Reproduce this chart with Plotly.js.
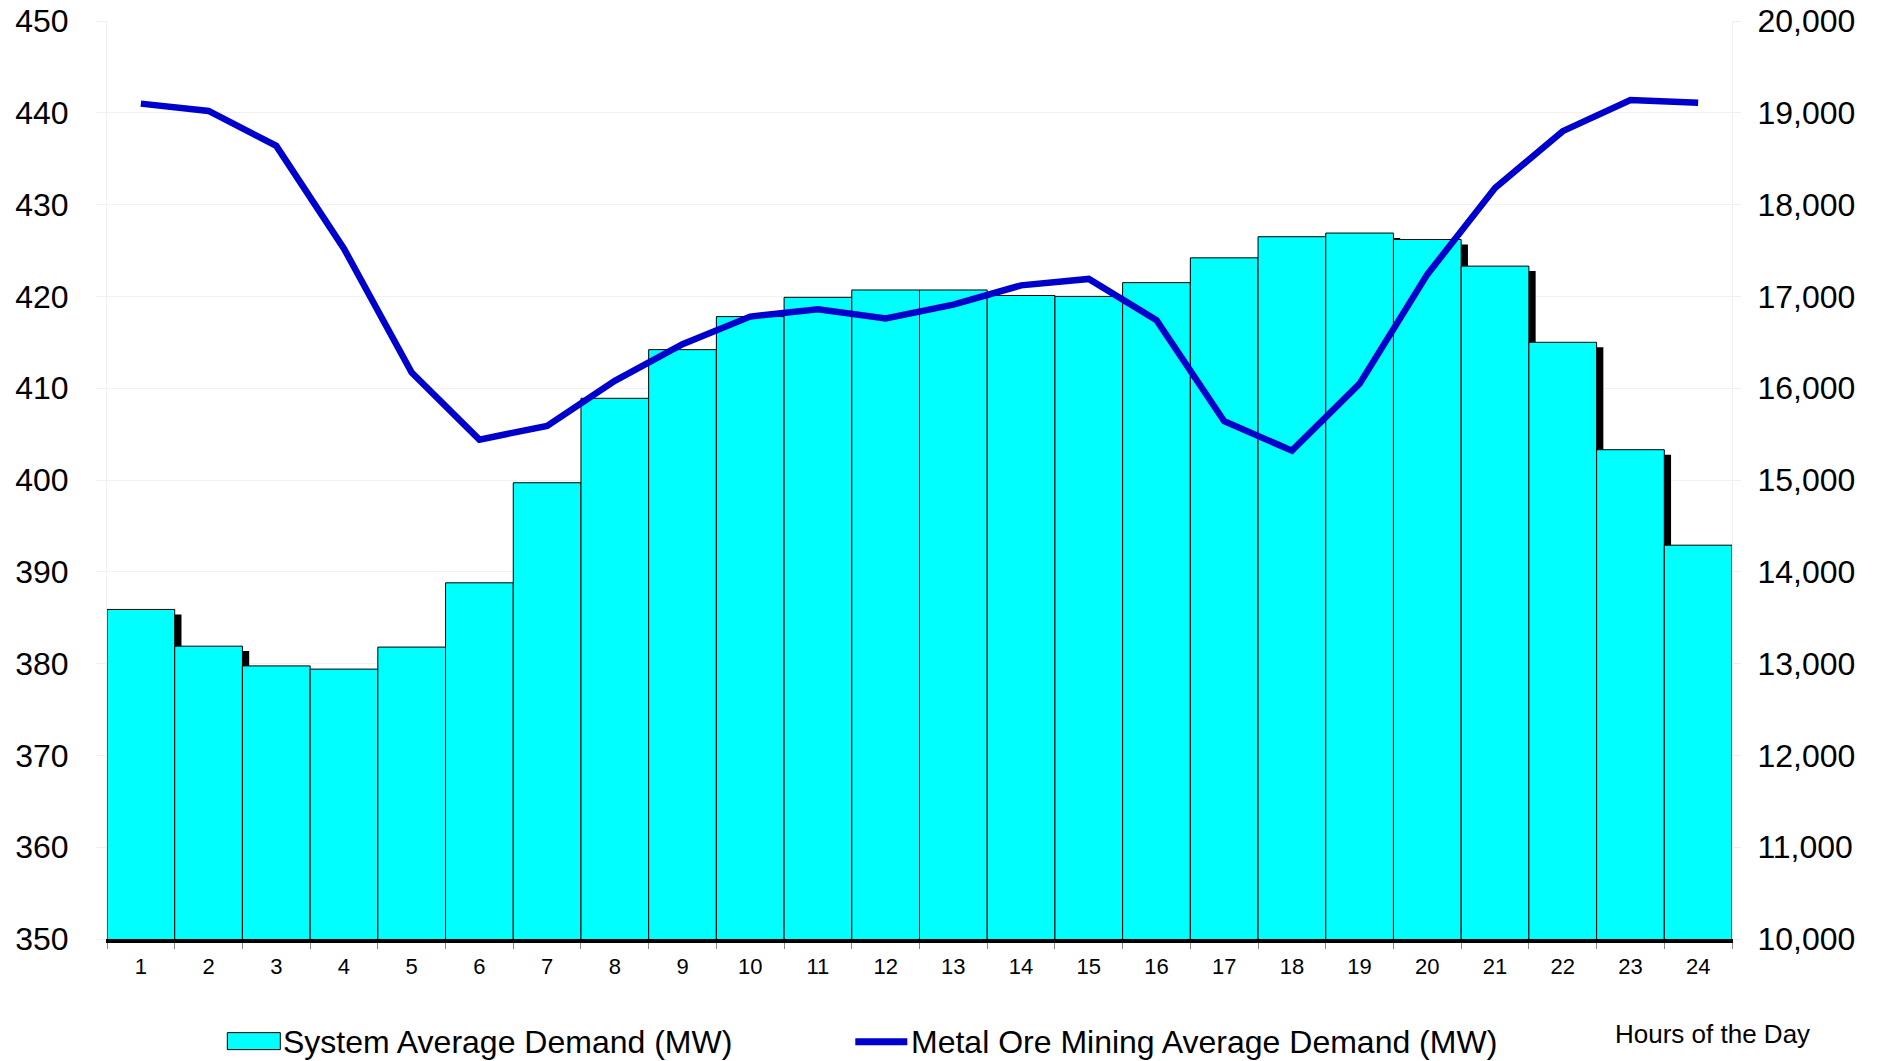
<!DOCTYPE html>
<html>
<head>
<meta charset="utf-8">
<script src="https://cdn.plot.ly/plotly-3.0.1.min.js"></script>
<style>
html,body{margin:0;padding:0;background:#fff;}
#chart{width:1879px;height:1061px;}
</style>
</head>
<body>
<div id="chart"></div>
<script>
// Hours of the day (category labels)
const hours = ["1","2","3","4","5","6","7","8","9","10","11","12","13","14","15","16","17","18","19","20","21","22","23","24"];
// System Average Demand (MW) - right axis
const systemDemand = [13590, 13190, 12975, 12940, 13180, 13880, 14970, 15890, 16420, 16780, 16990, 17070, 17070, 17010, 17000, 17150, 17420, 17650, 17690, 17620, 17330, 16500, 15330, 14290];
// Metal Ore Mining Average Demand (MW) - left axis
const miningDemand = [441.0, 440.2, 436.4, 425.2, 411.7, 404.4, 405.9, 410.8, 414.8, 417.8, 418.6, 417.6, 419.1, 421.2, 421.9, 417.4, 406.4, 403.2, 410.5, 422.4, 431.8, 438.0, 441.4, 441.1];

const FONT = "Liberation Sans, Arial, Helvetica, sans-serif";
const shadowDrop = 54; // shadow drop in axis units (visual effect only)

const shadow = {
  type: "bar", x: hours, y: systemDemand.map(v => v - shadowDrop),
  yaxis: "y", width: 1, offset: -0.4,
  marker: {color: "#000000", line: {width: 0}},
  showlegend: false, hoverinfo: "skip"
};
const bars = {
  type: "bar", name: "System Average Demand (MW)", x: hours, y: systemDemand,
  yaxis: "y", width: 1, offset: -0.5,
  marker: {color: "#00FFFF", line: {color: "#000000", width: 1}},
  showlegend: false
};
const line = {
  type: "scatter", mode: "lines", name: "Metal Ore Mining Average Demand (MW)",
  x: hours, y: miningDemand, yaxis: "y2",
  line: {color: "#0000CC", width: 6.5},
  showlegend: false
};

const L = 106.7, R = 1731.7, T = 20.7, B = 939.3;
const W = R - L, H = B - T;
const px = X => (X - L) / W;
const py = Y => (B - Y) / H;

const layout = {
  width: 1879, height: 1061,
  margin: {l: L, r: 1879 - R, t: T, b: 1061 - B, pad: 0},
  paper_bgcolor: "#ffffff", plot_bgcolor: "#ffffff",
  font: {family: FONT, color: "#000000"},
  barmode: "overlay",
  showlegend: false,
  xaxis: {
    type: "category", range: [-0.5, 23.5], tickson: "boundaries",
    showgrid: false, zeroline: false,
    showline: true, linecolor: "#000000", linewidth: 3.5,
    ticks: "outside", ticklen: 6, tickcolor: "#888888", tickwidth: 1,
    tickfont: {size: 22, family: FONT, color: "#000000"},
    ticklabelstandoff: 5
  },
  yaxis: {
    side: "right", range: [10000, 20000], dtick: 1000, tick0: 10000,
    tickformat: ",d",
    showgrid: true, gridcolor: "#f1f1f1", gridwidth: 1,
    zeroline: false, showline: true, linecolor: "#f1f1f1", linewidth: 1,
    ticks: "outside", ticklen: 8, tickcolor: "#eeeeee",
    tickfont: {size: 32, family: FONT, color: "#000000"},
    ticklabelstandoff: 10
  },
  yaxis2: {
    overlaying: "y", side: "left", range: [350, 450], dtick: 10, tick0: 350,
    showgrid: false, zeroline: false,
    showline: true, linecolor: "#f1f1f1", linewidth: 1,
    ticks: "outside", ticklen: 10, tickcolor: "#f1f1f1",
    tickfont: {size: 32, family: FONT, color: "#000000"},
    ticklabelstandoff: 21
  },
  shapes: [
    {type: "rect", xref: "paper", yref: "paper",
     x0: px(227), x1: px(280), y0: py(1050), y1: py(1033),
     fillcolor: "#00FFFF", line: {color: "#000000", width: 1}},
    {type: "line", xref: "paper", yref: "paper",
     x0: px(855), x1: px(907), y0: py(1042), y1: py(1042),
     line: {color: "#0000CC", width: 7}}
  ],
  annotations: [
    {xref: "paper", yref: "paper", x: px(281), y: py(1042), xanchor: "left", yanchor: "middle",
     text: "System Average Demand (MW)", showarrow: false, font: {size: 32, family: FONT, color: "#000000"}},
    {xref: "paper", yref: "paper", x: px(909), y: py(1042), xanchor: "left", yanchor: "middle",
     text: "Metal Ore Mining Average Demand (MW)", showarrow: false, font: {size: 32, family: FONT, color: "#000000"}},
    {xref: "paper", yref: "paper", x: px(1613), y: py(1034), xanchor: "left", yanchor: "middle",
     text: "Hours of the Day", showarrow: false, font: {size: 26, family: FONT, color: "#000000"}}
  ]
};

Plotly.newPlot("chart", [shadow, bars, line], layout, {displayModeBar: false, staticPlot: true});
</script>
</body>
</html>
